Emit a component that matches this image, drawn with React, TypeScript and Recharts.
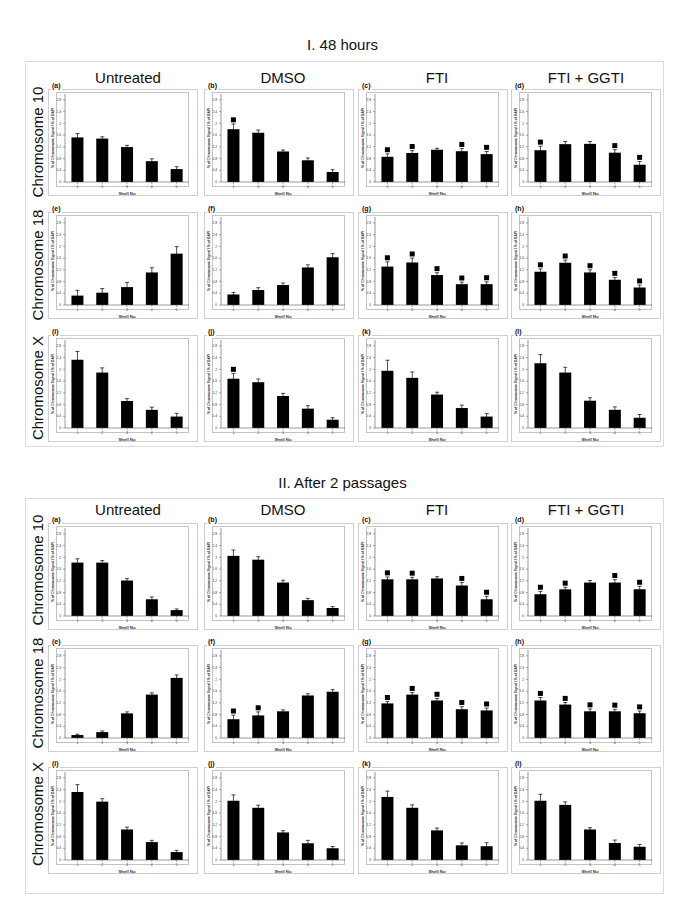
import { Bar, ComposedChart, ErrorBar, Scatter, XAxis, YAxis } from 'recharts'

// shell numbers on the x axis
const shells = ['1', '2', '3', '4', '5']
const yTicks = [0, 0.4, 0.8, 1.2, 1.6, 2, 2.4, 2.8]
const treatments = ['Untreated', 'DMSO', 'FTI', 'FTI + GGTI']
const chromosomes = ['Chromosome 10', 'Chromosome 18', 'Chromosome X']
const letters = ['a', 'b', 'c', 'd', 'e', 'f', 'g', 'h', 'i', 'j', 'k', 'l']

// I. 48 hours — one inner array per treatment (Untreated, DMSO, FTI, FTI+GGTI)
const h48Chr10 = [
  [1.52, 1.48, 1.19, 0.71, 0.44],
  [1.8, 1.68, 1.04, 0.74, 0.34],
  [0.86, 0.99, 1.1, 1.05, 0.95],
  [1.08, 1.29, 1.3, 1.0, 0.59],
]
const h48Chr10Err = [
  [0.13, 0.06, 0.06, 0.08, 0.08],
  [0.18, 0.09, 0.05, 0.08, 0.08],
  [0.1, 0.08, 0.05, 0.09, 0.09],
  [0.14, 0.09, 0.08, 0.1, 0.11],
]
const h48Chr10Sig = [
  [0, 0, 0, 0, 0],
  [1, 0, 0, 0, 0],
  [1, 1, 0, 1, 1],
  [1, 0, 0, 1, 1],
]

const h48Chr18 = [
  [0.32, 0.42, 0.61, 1.11, 1.75],
  [0.36, 0.51, 0.68, 1.28, 1.63],
  [1.31, 1.45, 1.02, 0.71, 0.71],
  [1.13, 1.44, 1.11, 0.86, 0.6],
]
const h48Chr18Err = [
  [0.18, 0.14, 0.16, 0.16, 0.24],
  [0.07, 0.08, 0.07, 0.09, 0.12],
  [0.16, 0.15, 0.08, 0.07, 0.08],
  [0.1, 0.09, 0.09, 0.08, 0.08],
]
const h48Chr18Sig = [
  [0, 0, 0, 0, 0],
  [0, 0, 0, 0, 0],
  [1, 1, 1, 1, 1],
  [1, 1, 1, 1, 1],
]

const h48ChrX = [
  [2.33, 1.89, 0.92, 0.62, 0.39],
  [1.68, 1.56, 1.09, 0.66, 0.28],
  [1.95, 1.71, 1.14, 0.68, 0.39],
  [2.21, 1.89, 0.93, 0.62, 0.35],
]
const h48ChrXErr = [
  [0.28, 0.16, 0.08, 0.09, 0.11],
  [0.18, 0.11, 0.09, 0.1, 0.07],
  [0.36, 0.2, 0.08, 0.1, 0.1],
  [0.29, 0.18, 0.1, 0.1, 0.11],
]
const h48ChrXSig = [
  [0, 0, 0, 0, 0],
  [1, 0, 0, 0, 0],
  [0, 0, 0, 0, 0],
  [0, 0, 0, 0, 0],
]

// II. After 2 passages
const p2Chr10 = [
  [1.82, 1.82, 1.21, 0.57, 0.2],
  [2.05, 1.92, 1.14, 0.54, 0.27],
  [1.25, 1.25, 1.28, 1.04, 0.57],
  [0.74, 0.91, 1.14, 1.14, 0.91],
]
const p2Chr10Err = [
  [0.13, 0.07, 0.07, 0.08, 0.04],
  [0.2, 0.1, 0.08, 0.06, 0.05],
  [0.08, 0.07, 0.06, 0.1, 0.1],
  [0.1, 0.07, 0.07, 0.1, 0.1],
]
const p2Chr10Sig = [
  [0, 0, 0, 0, 0],
  [0, 0, 0, 0, 0],
  [1, 1, 0, 1, 1],
  [1, 1, 0, 1, 1],
]

const p2Chr18 = [
  [0.1, 0.2, 0.84, 1.48, 2.05],
  [0.64, 0.77, 0.91, 1.45, 1.58],
  [1.18, 1.48, 1.28, 0.98, 0.94],
  [1.28, 1.14, 0.91, 0.91, 0.84],
]
const p2Chr18Err = [
  [0.03, 0.04, 0.05, 0.06, 0.1],
  [0.14, 0.12, 0.05, 0.06, 0.07],
  [0.06, 0.07, 0.07, 0.09, 0.08],
  [0.1, 0.07, 0.08, 0.07, 0.08],
]
const p2Chr18Sig = [
  [0, 0, 0, 0, 0],
  [1, 1, 0, 0, 0],
  [1, 1, 1, 1, 1],
  [1, 1, 1, 1, 1],
]

const p2ChrX = [
  [2.32, 1.99, 1.04, 0.61, 0.27],
  [2.02, 1.78, 0.94, 0.57, 0.4],
  [2.15, 1.78, 1.01, 0.5, 0.47],
  [2.02, 1.88, 1.04, 0.58, 0.45],
]
const p2ChrXErr = [
  [0.25, 0.1, 0.08, 0.06, 0.06],
  [0.2, 0.09, 0.06, 0.1, 0.06],
  [0.2, 0.1, 0.08, 0.08, 0.12],
  [0.22, 0.1, 0.06, 0.1, 0.08],
]
const p2ChrXSig = [
  [0, 0, 0, 0, 0],
  [0, 0, 0, 0, 0],
  [0, 0, 0, 0, 0],
  [0, 0, 0, 0, 0],
]

const FONT = '"Liberation Sans", Arial, Helvetica, sans-serif'
const colX = [48, 204, 358, 511]
const headerX = [128, 283, 437, 586]
const PW = 150
const PH = 107

const Square = (props: any) => {
  const { cx, cy, payload } = props
  if (payload?.m == null || cx == null || cy == null || isNaN(cy)) return null
  return <rect x={cx - 2.5} y={cy - 2.5} width={5} height={5} fill="#000" />
}

// rotated y title, centred on the axis height
const YTitle = (props: any) => {
  const vb = props.viewBox || {}
  const x = (vb.x ?? 0) + 4
  const y = (vb.y ?? 0) + (vb.height ?? 0) / 2
  return (
    <text
      x={x}
      y={y}
      transform={`rotate(-90 ${x} ${y})`}
      textAnchor="middle"
      dominantBaseline="central"
      fontSize={3.4}
      fontWeight="bold"
      fill="#333"
      fontFamily={FONT}
    >
      % of Chromosome Signal / % of DAPI
    </text>
  )
}

function Panel({
  letter,
  vals,
  errs,
  sig,
  left,
  top,
}: {
  letter: string
  vals: number[]
  errs: number[]
  sig: number[]
  left: number
  top: number
}) {
  const data = shells.map((s, i) => ({
    shell: s,
    v: vals[i],
    e: errs[i],
    m: sig[i] ? vals[i] + errs[i] + 0.14 : null,
  }))
  return (
    <div
      style={{
        position: 'absolute',
        left,
        top,
        width: PW,
        height: PH,
        border: '1px solid #cfcfcf',
        boxSizing: 'border-box',
      }}
    >
      <div
        style={{
          position: 'absolute',
          left: 2,
          top: -8,
          fontSize: 7,
          fontWeight: 'bold',
          lineHeight: '8px',
          background: '#fff',
          padding: '0 1px',
        }}
      >
        ({letter})
      </div>
      <div
        style={{
          position: 'absolute',
          left: 7,
          top: 2,
          width: PW - 2 - 8 - 7,
          height: PH - 2 - 10,
          border: '1px solid #c4c4c4',
          boxSizing: 'border-box',
        }}
      />
      <div style={{ position: 'absolute', left: 0, top: 0 }}>
        <ComposedChart
          width={PW - 2}
          height={PH - 2}
          data={data}
          margin={{ top: 4, right: 8, bottom: 0, left: 0 }}
          barCategoryGap="26%"
        >
          <XAxis
            dataKey="shell"
            interval={0}
            height={13}
            tickSize={2}
            tick={{ fontSize: 3.5, fill: '#333', fontFamily: FONT }}
            axisLine={{ stroke: '#555', strokeWidth: 0.6 }}
            tickLine={{ stroke: '#555', strokeWidth: 0.5 }}
            label={{
              value: 'Shell No',
              position: 'insideBottom',
              offset: 0,
              fontSize: 4.3,
              fontWeight: 'bold',
              fill: '#333',
              fontFamily: FONT,
            }}
          />
          <YAxis
            domain={[0, 3]}
            ticks={yTicks}
            width={16}
            tickSize={2}
            tick={{ fontSize: 3.3, fill: '#333', fontFamily: FONT }}
            axisLine={{ stroke: '#555', strokeWidth: 0.6 }}
            tickLine={{ stroke: '#555', strokeWidth: 0.5 }}
            label={<YTitle />}
          />
          <Bar dataKey="v" fill="#000" isAnimationActive={false}>
            <ErrorBar dataKey="e" width={2} stroke="#000" strokeWidth={0.7} direction="y" />
          </Bar>
          <Scatter dataKey="m" shape={Square} isAnimationActive={false} />
        </ComposedChart>
      </div>
    </div>
  )
}

function Section({
  title,
  titleY,
  frameTop,
  frameH,
  headerY,
  rowTops,
  rowLabelY,
  rows,
}: {
  title: string
  titleY: number
  frameTop: number
  frameH: number
  headerY: number
  rowTops: number[]
  rowLabelY: number[]
  rows: { vals: number[][]; errs: number[][]; sig: number[][] }[]
}) {
  return (
    <>
      <div
        style={{
          position: 'absolute',
          left: 0,
          width: 685,
          top: titleY - 9,
          textAlign: 'center',
          fontSize: 15,
          lineHeight: '18px',
        }}
      >
        {title}
      </div>
      <div
        style={{
          position: 'absolute',
          left: 25,
          top: frameTop,
          width: 639,
          height: frameH,
          border: '1px solid #dcdcdc',
          boxSizing: 'border-box',
        }}
      />
      {treatments.map((t, i) => (
        <div
          key={t}
          style={{
            position: 'absolute',
            left: headerX[i] - 70,
            width: 140,
            top: headerY - 9,
            textAlign: 'center',
            fontSize: 15,
            lineHeight: '18px',
          }}
        >
          {t}
        </div>
      ))}
      {chromosomes.map((c, r) => (
        <div
          key={c}
          style={{
            position: 'absolute',
            left: 38 - 60,
            width: 120,
            top: rowLabelY[r] - 9,
            textAlign: 'center',
            fontSize: 15,
            lineHeight: '18px',
            transform: 'rotate(-90deg)',
          }}
        >
          {c}
        </div>
      ))}
      {rows.map((row, r) =>
        treatments.map((t, c) => (
          <Panel
            key={`${r}-${t}`}
            letter={letters[r * 4 + c]}
            vals={row.vals[c]}
            errs={row.errs[c]}
            sig={row.sig[c]}
            left={colX[c]}
            top={rowTops[r]}
          />
        )),
      )}
    </>
  )
}

export default function App() {
  return (
    <div
      style={{
        position: 'absolute',
        left: 0,
        top: 0,
        width: 685,
        height: 924,
        background: '#fff',
        fontFamily: FONT,
        color: '#111',
      }}
    >
      <Section
        title="I. 48 hours"
        titleY={45}
        frameTop={61}
        frameH={386}
        headerY={78}
        rowTops={[89, 212, 335]}
        rowLabelY={[142, 265, 388]}
        rows={[
          { vals: h48Chr10, errs: h48Chr10Err, sig: h48Chr10Sig },
          { vals: h48Chr18, errs: h48Chr18Err, sig: h48Chr18Sig },
          { vals: h48ChrX, errs: h48ChrXErr, sig: h48ChrXSig },
        ]}
      />
      <Section
        title="II. After 2 passages"
        titleY={483}
        frameTop={498}
        frameH={396}
        headerY={510}
        rowTops={[523, 645, 767]}
        rowLabelY={[570, 693, 814]}
        rows={[
          { vals: p2Chr10, errs: p2Chr10Err, sig: p2Chr10Sig },
          { vals: p2Chr18, errs: p2Chr18Err, sig: p2Chr18Sig },
          { vals: p2ChrX, errs: p2ChrXErr, sig: p2ChrXSig },
        ]}
      />
    </div>
  )
}
